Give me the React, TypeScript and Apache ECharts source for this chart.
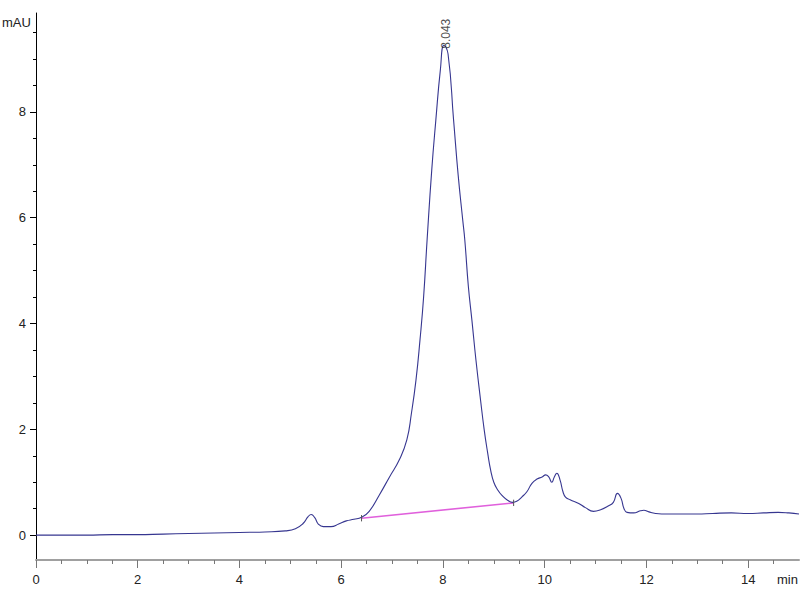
import React, { useEffect, useRef } from "react";
import * as echarts from "echarts";

// Chromatogram trace (time in min, absorbance in mAU)
const traceTimes = [
  0.0, 0.5, 1.0, 1.5, 2.0, 2.5, 3.0, 3.5, 4.0, 4.5, 4.9, 5.1, 5.25, 5.35, 5.41, 5.48, 5.55, 5.65, 5.8, 5.95,
  6.1, 6.25, 6.4, 6.55, 6.75, 6.95, 7.14, 7.29, 7.38, 7.47, 7.55, 7.62, 7.69, 7.78, 7.86, 7.95, 8.02, 8.1,
  8.21, 8.3, 8.39, 8.43, 8.5, 8.57, 8.65, 8.74, 8.81, 8.88, 8.94, 9.0, 9.08, 9.16, 9.27, 9.37, 9.45, 9.55, 9.65,
  9.75, 9.85, 9.95, 10.02, 10.08, 10.14, 10.19, 10.24, 10.3, 10.36, 10.41, 10.5, 10.67, 10.8, 10.96, 11.1,
  11.25, 11.35, 11.43, 11.5, 11.56, 11.62, 11.75, 11.88, 11.95, 12.05, 12.18, 12.3, 12.6, 13.0, 13.3, 13.67,
  14.0, 14.3, 14.59, 14.8, 15.0,
];
const traceValues = [
  0.0, 0.0, 0.0, 0.01, 0.01, 0.02, 0.03, 0.04, 0.05, 0.06, 0.08, 0.12, 0.22, 0.35, 0.39, 0.33, 0.21, 0.16, 0.16, 0.21,
  0.27, 0.3, 0.34, 0.45, 0.76, 1.1, 1.42, 1.8, 2.3, 2.93, 3.7, 4.5, 5.6, 6.9, 7.84, 8.8, 9.26, 9.1,
  7.84, 6.8, 5.95, 5.58, 4.7, 4.06, 3.3, 2.55, 2.0, 1.55, 1.22, 1.0, 0.85, 0.75, 0.66, 0.62, 0.64, 0.72, 0.82,
  0.98, 1.06, 1.1, 1.14, 1.1, 1.0, 1.1, 1.17, 1.05, 0.82, 0.72, 0.67, 0.6, 0.52, 0.45, 0.48,
  0.55, 0.62, 0.79, 0.7, 0.5, 0.43, 0.42, 0.46, 0.47, 0.44, 0.41, 0.4, 0.4, 0.4, 0.41, 0.42,
  0.41, 0.42, 0.43, 0.42, 0.4,
];

// Integration baseline (start / end)
const baselineTimes = [6.4, 9.39];
const baselineValues = [0.32, 0.61];

// Peak annotation
const peakTime = 8.043;
const peakHeight = 9.26;

// Axis ticks and labels
const xMajorTicks = [0, 2, 4, 6, 8, 10, 12, 14];
const xMinorTicks = [0, 0.5, 1, 1.5, 2, 2.5, 3, 3.5, 4, 4.5, 5, 5.5, 6, 6.5, 7, 7.5, 8, 8.5, 9, 9.5, 10, 10.5, 11, 11.5, 12, 12.5, 13, 13.5, 14, 14.5];
const yMajorTicks = [0, 2, 4, 6, 8];
const yMinorTicks = [0, 0.5, 1, 1.5, 2, 2.5, 3, 3.5, 4, 4.5, 5, 5.5, 6, 6.5, 7, 7.5, 8, 8.5, 9, 9.5];

const X_MIN = 0;
const X_MAX = 15;
const Y_MIN = -0.47;
const Y_MAX = 9.87;

const FONT = "'Liberation Sans', Arial, sans-serif";

export default function App() {
  const ref = useRef<HTMLDivElement>(null);

  useEffect(() => {
    if (!ref.current) return;
    const chart = echarts.init(ref.current, undefined, { renderer: "svg" });

    const trace = traceTimes.map((t, i) => [t, traceValues[i]]);
    const baseline = baselineTimes.map((t, i) => [t, baselineValues[i]]);
    const tickHalf = 0.06;
    const baselineTicks: any[] = [];
    baselineTimes.forEach((t, i) => {
      if (i > 0) baselineTicks.push("-");
      baselineTicks.push([t, baselineValues[i] - tickHalf]);
      baselineTicks.push([t, baselineValues[i] + tickHalf]);
    });

    chart.setOption({
      animation: false,
      backgroundColor: "#ffffff",
      grid: { left: 36, right: 1, top: 13, bottom: 40, containLabel: false },
      xAxis: [
        {
          type: "value",
          min: X_MIN,
          max: X_MAX,
          position: "bottom",
          axisLine: { show: true, onZero: false, lineStyle: { color: "#a0a0a0", width: 2 } },
          axisTick: { show: true, customValues: xMajorTicks, length: 8, lineStyle: { color: "#777", width: 1 } },
          axisLabel: {
            show: true,
            customValues: xMajorTicks,
            margin: 13,
            color: "#222",
            fontSize: 13,
            fontFamily: FONT,
          },
          splitLine: { show: false },
        },
        {
          type: "value",
          min: X_MIN,
          max: X_MAX,
          position: "bottom",
          axisLine: { show: false, onZero: false },
          axisTick: { show: true, customValues: xMinorTicks, length: 4, lineStyle: { color: "#777", width: 1 } },
          axisLabel: { show: false },
          splitLine: { show: false },
        },
      ],
      yAxis: [
        {
          type: "value",
          min: Y_MIN,
          max: Y_MAX,
          position: "left",
          axisLine: { show: true, onZero: false, lineStyle: { color: "#000", width: 1 } },
          axisTick: { show: true, customValues: yMajorTicks, length: 6, lineStyle: { color: "#000", width: 1 } },
          axisLabel: {
            show: true,
            customValues: yMajorTicks,
            margin: 10,
            color: "#222",
            fontSize: 13,
            fontFamily: FONT,
          },
          splitLine: { show: false },
        },
        {
          type: "value",
          min: Y_MIN,
          max: Y_MAX,
          position: "left",
          axisLine: { show: false, onZero: false },
          axisTick: { show: true, customValues: yMinorTicks, length: 3, lineStyle: { color: "#000", width: 1 } },
          axisLabel: { show: false },
          splitLine: { show: false },
        },
      ],
      graphic: [
        {
          type: "text",
          left: 2,
          top: 16,
          style: { text: "mAU", fontSize: 13, fontFamily: FONT, fill: "#222" },
        },
        {
          type: "text",
          left: 777,
          top: 573,
          style: { text: "min", fontSize: 13, fontFamily: FONT, fill: "#222" },
        },
      ],
      series: [
        {
          type: "line",
          xAxisIndex: 0,
          yAxisIndex: 0,
          data: trace,
          showSymbol: false,
          symbol: "none",
          smooth: 0.5,
          lineStyle: { color: "#363690", width: 1.1 },
          z: 3,
        },
        {
          type: "line",
          xAxisIndex: 0,
          yAxisIndex: 0,
          data: baseline,
          symbol: "none",
          lineStyle: { color: "#e060dc", width: 1.6 },
          z: 2,
        },
        {
          type: "line",
          xAxisIndex: 0,
          yAxisIndex: 0,
          data: baselineTicks,
          symbol: "none",
          connectNulls: false,
          lineStyle: { color: "#555", width: 1 },
          z: 4,
        },
        {
          type: "scatter",
          xAxisIndex: 0,
          yAxisIndex: 0,
          data: [[peakTime, peakHeight]],
          symbolSize: 1,
          itemStyle: { color: "rgba(0,0,0,0)" },
          label: {
            show: true,
            formatter: () => peakTime.toFixed(3),
            position: [1, 4],
            rotate: 90,
            align: "left",
            verticalAlign: "middle",
            fontSize: 12,
            fontFamily: FONT,
            color: "#222",
          },
          z: 5,
        },
      ],
    });

    return () => chart.dispose();
  }, []);

  return (
    <div
      ref={ref}
      style={{ position: "fixed", left: 0, top: 0, width: 800, height: 600, background: "#fff" }}
    />
  );
}
